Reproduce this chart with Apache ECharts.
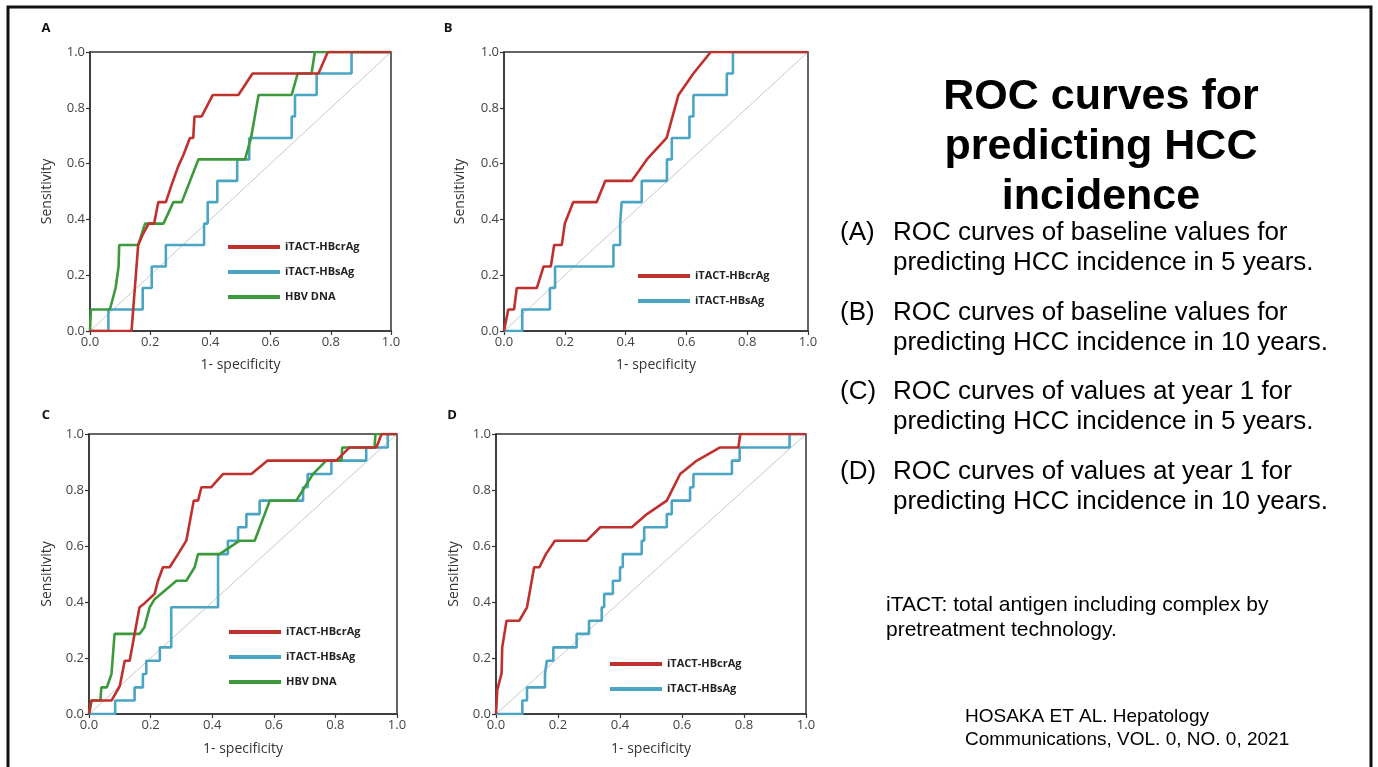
<!DOCTYPE html>
<html>
<head>
<meta charset="utf-8">
<title>ROC curves for predicting HCC incidence</title>
<script src="https://cdn.jsdelivr.net/npm/echarts@6/dist/echarts.min.js"></script>
<style>
  html, body { margin: 0; padding: 0; background: #fff; }
  #chart { width: 1378px; height: 767px; }
</style>
</head>
<body>
<div id="chart"></div>
<script>
  // ROC points [1-specificity, sensitivity]
  var A_HBcrAg = [[0,0],[0.138,0],[0.16,0.308],[0.175,0.345],[0.195,0.385],[0.213,0.385],[0.227,0.462],[0.252,0.462],[0.27,0.52],[0.293,0.59],[0.31,0.63],[0.332,0.692],[0.343,0.692],[0.347,0.769],[0.371,0.769],[0.408,0.846],[0.493,0.846],[0.54,0.923],[0.759,0.923],[0.79,1],[1,1]]
  var A_HBsAg = [[0,0],[0.061,0],[0.061,0.077],[0.175,0.077],[0.175,0.154],[0.205,0.154],[0.205,0.231],[0.252,0.231],[0.252,0.308],[0.379,0.308],[0.379,0.385],[0.391,0.385],[0.391,0.462],[0.423,0.462],[0.423,0.538],[0.489,0.538],[0.489,0.615],[0.529,0.615],[0.529,0.692],[0.67,0.692],[0.67,0.769],[0.681,0.769],[0.681,0.846],[0.753,0.846],[0.753,0.923],[0.869,0.923],[0.869,1],[1,1]]
  var A_HBV = [[0,0],[0.003,0.077],[0.066,0.077],[0.085,0.154],[0.095,0.231],[0.097,0.308],[0.16,0.308],[0.183,0.385],[0.244,0.385],[0.277,0.462],[0.305,0.462],[0.36,0.615],[0.515,0.615],[0.535,0.692],[0.56,0.846],[0.67,0.846],[0.69,0.923],[0.736,0.923],[0.747,1],[1,1]]

  var B_HBcrAg = [[0,0],[0.005,0],[0.014,0.077],[0.033,0.077],[0.042,0.154],[0.108,0.154],[0.13,0.231],[0.154,0.231],[0.165,0.308],[0.19,0.308],[0.2,0.385],[0.228,0.462],[0.305,0.462],[0.333,0.538],[0.42,0.538],[0.47,0.615],[0.535,0.692],[0.574,0.846],[0.623,0.923],[0.68,1],[1,1]]
  var B_HBsAg = [[0,0],[0.06,0],[0.06,0.077],[0.151,0.077],[0.151,0.154],[0.168,0.154],[0.168,0.231],[0.36,0.231],[0.36,0.308],[0.382,0.308],[0.382,0.385],[0.387,0.385],[0.387,0.462],[0.453,0.462],[0.453,0.538],[0.536,0.538],[0.536,0.615],[0.552,0.615],[0.552,0.692],[0.61,0.692],[0.61,0.769],[0.623,0.769],[0.623,0.846],[0.733,0.846],[0.733,0.923],[0.753,0.923],[0.753,1],[1,1]]

  var C_HBcrAg = [[0,0],[0.008,0.048],[0.073,0.048],[0.1,0.1],[0.116,0.19],[0.132,0.19],[0.164,0.381],[0.18,0.395],[0.213,0.429],[0.224,0.476],[0.24,0.524],[0.262,0.524],[0.289,0.571],[0.316,0.619],[0.34,0.762],[0.354,0.762],[0.365,0.81],[0.397,0.81],[0.435,0.857],[0.527,0.857],[0.58,0.905],[0.803,0.905],[0.846,0.952],[0.933,0.952],[0.95,1],[1,1]]
  var C_HBsAg = [[0,0],[0.085,0],[0.085,0.048],[0.148,0.048],[0.148,0.095],[0.175,0.095],[0.175,0.143],[0.186,0.143],[0.186,0.19],[0.23,0.19],[0.23,0.238],[0.267,0.238],[0.267,0.381],[0.419,0.381],[0.419,0.571],[0.451,0.571],[0.451,0.619],[0.484,0.619],[0.484,0.667],[0.511,0.667],[0.511,0.714],[0.554,0.714],[0.554,0.762],[0.695,0.762],[0.695,0.81],[0.71,0.81],[0.71,0.857],[0.787,0.857],[0.787,0.905],[0.9,0.905],[0.9,0.952],[0.97,0.952],[0.97,1],[1,1]]
  var C_HBV = [[0,0],[0.008,0.048],[0.037,0.048],[0.04,0.095],[0.058,0.095],[0.073,0.143],[0.083,0.286],[0.164,0.286],[0.18,0.31],[0.197,0.381],[0.213,0.41],[0.284,0.476],[0.316,0.476],[0.343,0.524],[0.354,0.571],[0.424,0.571],[0.489,0.619],[0.538,0.619],[0.587,0.762],[0.673,0.762],[0.727,0.857],[0.77,0.905],[0.82,0.905],[0.822,0.952],[0.927,0.952],[0.93,1],[1,1]]

  var D_HBcrAg = [[0,0],[0.004,0.086],[0.018,0.145],[0.02,0.238],[0.034,0.333],[0.075,0.333],[0.1,0.381],[0.123,0.524],[0.14,0.524],[0.161,0.571],[0.19,0.619],[0.293,0.619],[0.336,0.667],[0.438,0.667],[0.487,0.714],[0.551,0.762],[0.594,0.857],[0.648,0.905],[0.723,0.952],[0.782,0.952],[0.788,1],[1,1]]
  var D_HBsAg = [[0,0],[0.085,0],[0.085,0.048],[0.1,0.048],[0.1,0.095],[0.158,0.095],[0.158,0.143],[0.164,0.143],[0.164,0.19],[0.185,0.19],[0.185,0.238],[0.26,0.238],[0.26,0.286],[0.3,0.286],[0.3,0.333],[0.341,0.333],[0.341,0.381],[0.349,0.381],[0.349,0.429],[0.377,0.429],[0.377,0.476],[0.4,0.476],[0.4,0.524],[0.409,0.524],[0.409,0.571],[0.47,0.571],[0.47,0.619],[0.478,0.619],[0.478,0.667],[0.551,0.667],[0.551,0.714],[0.567,0.714],[0.567,0.762],[0.626,0.762],[0.626,0.81],[0.637,0.81],[0.637,0.857],[0.761,0.857],[0.761,0.905],[0.786,0.905],[0.786,0.952],[0.947,0.952],[0.947,1],[1,1]]

  var chanceLine = [[0,0],[1,1]]
  var tickLabels = ['0.0', '0.2', '0.4', '0.6', '0.8', '1.0']

  var RED = '#c0302c'
  var BLUE = '#4aa5c4'
  var GREEN = '#3c9a3c'
  var FONT = 'Open Sans'

  // panel boxes in pixels
  var panels = [
    { key: 'A', grid: { left: 90, top: 52, width: 301, height: 279 }, yGap: 36, xGap: 27,
      series: [['iTACT-HBsAg', A_HBsAg, BLUE], ['HBV DNA', A_HBV, GREEN], ['iTACT-HBcrAg', A_HBcrAg, RED]],
      legend: { left: 223, top: 235, data: ['iTACT-HBcrAg', 'iTACT-HBsAg', 'HBV DNA'] }, letter: [46, 28] },
    { key: 'B', grid: { left: 504, top: 52, width: 304, height: 279 }, yGap: 37, xGap: 27,
      series: [['iTACT-HBsAg', B_HBsAg, BLUE], ['iTACT-HBcrAg', B_HBcrAg, RED]],
      legend: { left: 633, top: 264, data: ['iTACT-HBcrAg', 'iTACT-HBsAg'] }, letter: [448, 28] },
    { key: 'C', grid: { left: 89, top: 434, width: 308, height: 280 }, yGap: 35, xGap: 28,
      series: [['iTACT-HBsAg', C_HBsAg, BLUE], ['HBV DNA', C_HBV, GREEN], ['iTACT-HBcrAg', C_HBcrAg, RED]],
      legend: { left: 224, top: 620, data: ['iTACT-HBcrAg', 'iTACT-HBsAg', 'HBV DNA'] }, letter: [46, 415] },
    { key: 'D', grid: { left: 496, top: 434, width: 310, height: 280 }, yGap: 35, xGap: 28,
      series: [['iTACT-HBsAg', D_HBsAg, BLUE], ['iTACT-HBcrAg', D_HBcrAg, RED]],
      legend: { left: 605, top: 652, data: ['iTACT-HBcrAg', 'iTACT-HBsAg'] }, letter: [452, 415] }
  ]

  var grids = [], xAxes = [], yAxes = [], series = [], legends = [], graphics = []

  function axisCommon (name, gap) {
    return {
      type: 'value', min: 0, max: 1, interval: 0.2,
      name: name, nameLocation: 'middle', nameGap: gap,
      nameTextStyle: { fontFamily: FONT, fontSize: 14, color: '#333' },
      axisLine: { show: true, lineStyle: { color: '#333', width: 1.5 } },
      axisTick: { show: true, length: 4, lineStyle: { color: '#333', width: 1.2 } },
      axisLabel: {
        fontFamily: FONT, fontSize: 13, color: '#444', margin: 5,
        formatter: function (v) { return tickLabels[Math.round(v * 5)] }
      },
      splitLine: { show: false }
    }
  }

  panels.forEach(function (p, i) {
    grids.push(Object.assign({ show: true, borderColor: '#333', borderWidth: 1.5, backgroundColor: 'transparent' }, p.grid))
    xAxes.push(Object.assign(axisCommon('1- specificity', p.xGap), { gridIndex: i }))
    yAxes.push(Object.assign(axisCommon('Sensitivity', p.yGap), { gridIndex: i }))
    series.push({
      type: 'line', xAxisIndex: i, yAxisIndex: i, data: chanceLine,
      showSymbol: false, symbol: 'none', silent: true,
      lineStyle: { color: '#c8c8c8', width: 1 }
    })
    p.series.forEach(function (s) {
      series.push({
        name: s[0], type: 'line', xAxisIndex: i, yAxisIndex: i, data: s[1],
        showSymbol: false, symbol: 'none', color: s[2],
        lineStyle: { color: s[2], width: 2.6 }
      })
    })
    legends.push({
      orient: 'vertical', left: p.legend.left, top: p.legend.top, data: p.legend.data,
      icon: 'rect', itemWidth: 52, itemHeight: 4, itemGap: 11,
      selectedMode: false,
      textStyle: { fontFamily: FONT, fontSize: 11, fontWeight: 'bold', color: '#222', lineHeight: 14 }
    })
    graphics.push({
      type: 'text', x: p.letter[0], y: p.letter[1],
      style: { text: p.key, font: 'bold 13px ' + FONT, fill: '#111', textAlign: 'center', textVerticalAlign: 'middle' }
    })
  })

  // slide frame
  graphics.push({
    type: 'rect', shape: { x: 8, y: 7, width: 1363, height: 800 },
    style: { fill: 'none', stroke: '#111', lineWidth: 3 }
  })

  // right-hand slide text
  var SANS = 'Liberation Sans'
  graphics.push({
    type: 'text', x: 1101, y: 72,
    style: { text: 'ROC curves for\npredicting HCC\nincidence', font: 'bold 43px ' + SANS, lineHeight: 50,
      fill: '#000', textAlign: 'center', textVerticalAlign: 'top' }
  })
  var notes = [
    ['(A)', 'ROC curves of baseline values for', 'predicting HCC incidence in 5 years.', 233],
    ['(B)', 'ROC curves of baseline values for', 'predicting HCC incidence in 10 years.', 313],
    ['(C)', 'ROC curves of values at year 1 for', 'predicting HCC incidence in 5 years.', 392],
    ['(D)', 'ROC curves of values at year 1 for', 'predicting HCC incidence in 10 years.', 472]
  ]
  notes.forEach(function (n) {
    graphics.push({ type: 'text', x: 840, y: n[3], style: { text: n[0], font: '26px ' + SANS, fill: '#000', textVerticalAlign: 'middle' } })
    graphics.push({ type: 'text', x: 893, y: n[3], style: { text: n[1], font: '26px ' + SANS, fill: '#000', textVerticalAlign: 'middle' } })
    graphics.push({ type: 'text', x: 893, y: n[3] + 30, style: { text: n[2], font: '26px ' + SANS, fill: '#000', textVerticalAlign: 'middle' } })
  })
  graphics.push({ type: 'text', x: 886, y: 605, style: { text: 'iTACT: total antigen including complex by', font: '21px ' + SANS, fill: '#000', textVerticalAlign: 'middle' } })
  graphics.push({ type: 'text', x: 886, y: 630, style: { text: 'pretreatment technology.', font: '21px ' + SANS, fill: '#000', textVerticalAlign: 'middle' } })
  graphics.push({ type: 'text', x: 965, y: 717, style: { text: 'HOSAKA ET AL. Hepatology', font: '19px ' + SANS, fill: '#000', textVerticalAlign: 'middle' } })
  graphics.push({ type: 'text', x: 965, y: 740, style: { text: 'Communications, VOL. 0, NO. 0, 2021', font: '19px ' + SANS, fill: '#000', textVerticalAlign: 'middle' } })

  var option = {
    backgroundColor: '#fff',
    animation: false,
    grid: grids,
    xAxis: xAxes,
    yAxis: yAxes,
    legend: legends,
    series: series,
    graphic: graphics
  }

  var chart = echarts.init(document.getElementById('chart'))
  chart.setOption(option)
  window.addEventListener('resize', function () {
    chart.resize()
  })
</script>
</body>
</html>
